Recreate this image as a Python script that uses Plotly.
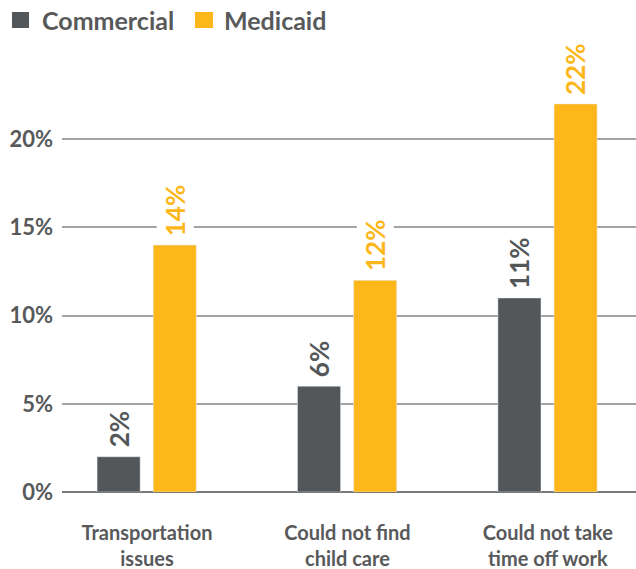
import plotly.graph_objects as go

# Survey categories and share of respondents per plan type (%)
categories = ["Transportation<br>issues", "Could not find<br>child care", "Could not take<br>time off work"]
commercial = [2, 6, 11]
medicaid = [14, 12, 22]
y_ticks = [0, 5, 10, 15, 20]
y_tick_labels = ["0%", "5%", "10%", "15%", "20%"]

DARK = "#54575a"
GOLD = "#fdb71a"
TEXT = "#58595b"
FONT = "Lato"

fig = go.Figure()
fig.add_trace(go.Bar(x=list(range(len(categories))), y=commercial, name="Commercial",
                     marker_color=DARK, width=0.215, offset=-0.249))
fig.add_trace(go.Bar(x=list(range(len(categories))), y=medicaid, name="Medicaid",
                     marker_color=GOLD, width=0.215, offset=0.031))

# Rotated value labels above each bar, on a white box that cuts the gridlines
for i, v in enumerate(commercial):
    fig.add_annotation(x=i - 0.1415, y=v, text=f"{v}%", textangle=-90, showarrow=False,
                       xanchor="center", yanchor="bottom", yshift=6, bgcolor="white",
                       borderpad=2, font=dict(family=FONT, size=26, color=DARK, weight="bold"))
for i, v in enumerate(medicaid):
    fig.add_annotation(x=i + 0.1385, y=v, text=f"{v}%", textangle=-90, showarrow=False,
                       xanchor="center", yanchor="bottom", yshift=6, bgcolor="white",
                       borderpad=2, font=dict(family=FONT, size=26, color=GOLD, weight="bold"))

# Legend drawn as swatches + labels above the plot
fig.add_shape(type="rect", xref="paper", yref="paper", x0=-0.0871, x1=-0.0575,
              y0=1.0522, y1=1.0884, fillcolor=DARK, line_width=0)
fig.add_shape(type="rect", xref="paper", yref="paper", x0=0.2317, x1=0.2631,
              y0=1.0522, y1=1.0884, fillcolor=GOLD, line_width=0)
fig.add_annotation(xref="paper", yref="paper", x=-0.0383, y=1.0703, text="Commercial",
                   showarrow=False, xanchor="left", yanchor="middle",
                   font=dict(family=FONT, size=25, color=TEXT, weight="bold"))
fig.add_annotation(xref="paper", yref="paper", x=0.2787, y=1.0703, text="Medicaid",
                   showarrow=False, xanchor="left", yanchor="middle",
                   font=dict(family=FONT, size=25, color=TEXT, weight="bold"))

fig.update_layout(
    width=636, height=569,
    margin=dict(l=62, r=0, t=51, b=77),
    paper_bgcolor="white", plot_bgcolor="white",
    showlegend=False,
    font=dict(family=FONT, color=TEXT),
    xaxis=dict(range=[-0.424, 2.44], tickmode="array", tickvals=list(range(len(categories))),
               ticktext=categories, showgrid=False, zeroline=False, showline=False,
               ticks="", ticklabelstandoff=27,
               tickfont=dict(family=FONT, size=20, color=TEXT, weight="bold")),
    yaxis=dict(range=[0, 25], tickmode="array", tickvals=y_ticks, ticktext=y_tick_labels,
               showgrid=True, gridcolor="#a3a3a3", gridwidth=1.5,
               zeroline=True, zerolinecolor="#7a7a7a", zerolinewidth=2,
               showline=False, ticks="", ticklabelstandoff=8,
               tickfont=dict(family=FONT, size=22, color=TEXT, weight="bold")),
)

fig.write_html("out.html")
